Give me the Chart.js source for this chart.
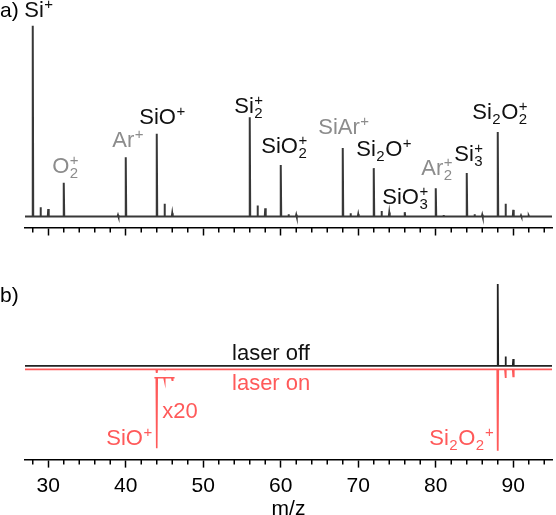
<!DOCTYPE html>
<html>
<head>
<meta charset="utf-8">
<script src="https://cdn.jsdelivr.net/npm/chart.js@4"></script>
<style>
html, body { margin: 0; padding: 0; background: #fff; overflow: hidden; width: 556px; height: 515px; }
#wrapTop { position: absolute; left: 0; top: 0; }
#wrapBot { position: absolute; left: 0; top: 260px; }
</style>
</head>
<body>
<div id="wrapTop"><canvas id="top" width="556" height="240"></canvas></div>
<div id="wrapBot"><canvas id="bottom" width="556" height="266"></canvas></div>
<script>
// a) mass spectrum, peaks at m/z with intensity (Si+ = 100)
const massA = [28, 29, 30, 32, 39, 40, 41, 44, 45, 46, 56, 57, 58, 60, 61, 62, 68, 69, 70, 72, 73, 74, 76, 80, 81, 84, 85, 86, 88, 89, 90, 91, 92];
const intA = [100, 4.9, 4.0, 17.8, 0.8, 31.1, 0.5, 43.4, 6.7, 1.8, 52.1, 5.8, 4.4, 27.1, 1.2, 1.0, 35.9, 1.8, 1.3, 25.4, 3.0, 2.1, 2.3, 14.9, 0.8, 22.8, 1.3, 1.0, 44.3, 6.7, 3.5, 0.6, 0.5];

// b) laser off / laser on (Si2O2+ laser off = 100)
const massOff = [88, 89, 90];
const intOff = [100, 11.3, 8.2];
const massOn = [44, 45, 88, 89, 90];
const intOn = [4.3, 0.3, 99.4, 10.6, 8.5];
// SiO+ part of the laser on trace, shown x20
const massZoom = [44, 45, 46];
const intZoom = [4.3, 0.2, 0.15];
const zoomFactor = 20;
const zoomFrom = 43.7, zoomTo = 46.3;
const offsetOn = -4.3;
const offsetZoom = -14.6;

const xMin = 27, xMax = 95;
const xMajor = [30, 40, 50, 60, 70, 80, 90];

// ion labels: [text parts, m/z of left edge, y of baseline, colour key]
// part = [main, sub, sup] ; sub and sup stacked
const ionsA = [
  [[['Si', '', '+']], 26.9, 104.7, 'k'],
  [[['O', '2', '+']], 30.5, 22.9, 'g'],
  [[['Ar', '', '+']], 38.26, 36.7, 'g'],
  [[['SiO', '', '+']], 41.74, 48.3, 'k'],
  [[['Si', '2', '+']], 54.0, 54.4, 'k'],
  [[['SiO', '2', '+']], 57.48, 33.4, 'k'],
  [[['SiAr', '', '+']], 64.84, 43.4, 'g'],
  [[['Si', '2', ''], ['O', '', '+']], 69.74, 31.5, 'k'],
  [[['SiO', '3', '+']], 73.1, 6.7, 'k'],
  [[['Ar', '2', '+']], 78.13, 21.9, 'g'],
  [[['Si', '3', '+']], 82.39, 29.2, 'k'],
  [[['Si', '2', ''], ['O', '2', '+']], 84.71, 51.1, 'k']
];
const ionsB = [
  [[['laser off', '', '']], 53.71, 7.3, 'k'],
  [[['laser on', '', '']], 53.71, -29.3, 'r'],
  [[['x20', '', '']], 44.71, -63.4, 'r'],
  [[['SiO', '', '+']], 37.48, -96.3, 'r'],
  [[['Si', '2', ''], ['O', '2', ''], ['', '', '+']], 79.16, -96.3, 'r']
];
const colors = { k: '#111111', g: '#8c8c8c', r: '#ff5a5a' };

const FONT = '"Liberation Sans", Arial, sans-serif';
Chart.defaults.font.family = FONT;
Chart.defaults.font.size = 20;
Chart.defaults.color = '#000';

function spectrum(masses, ints, from, to, base, sign) {
  const pts = [{ x: from, y: base }];
  masses.forEach((m, i) => {
    pts.push({ x: m - 0.06, y: base }, { x: m, y: base + sign * ints[i] }, { x: m + 0.06, y: base });
  });
  pts.push({ x: to, y: base });
  return pts;
}

function drawRich(ctx, x, y, parts, color) {
  ctx.fillStyle = color;
  ctx.textBaseline = 'alphabetic';
  ctx.textAlign = 'left';
  parts.forEach(([main, sub, sup]) => {
    ctx.font = '22px ' + FONT;
    ctx.fillText(main, x, y);
    x += ctx.measureText(main).width;
    ctx.font = '15px ' + FONT;
    let w = 0;
    if (sub) { ctx.fillText(sub, x + 0.5, y + 5); w = Math.max(w, ctx.measureText(sub).width); }
    if (sup) { ctx.fillText(sup, x + 0.5, y - 8); w = Math.max(w, ctx.measureText(sup).width); }
    x += w + (w ? 1 : 0);
  });
}

function labelPlugin(items, panelTag, tagY) {
  return {
    id: 'ionLabels',
    afterDraw(chart) {
      const { ctx, scales: { x, y } } = chart;
      ctx.save();
      items.forEach(([parts, m, v, c]) => {
        drawRich(ctx, x.getPixelForValue(m), y.getPixelForValue(v), parts, colors[c]);
      });
      ctx.font = '21px ' + FONT;
      ctx.fillStyle = '#000';
      ctx.textBaseline = 'alphabetic';
      ctx.textAlign = 'left';
      ctx.fillText(panelTag, 0, tagY);
      ctx.restore();
    }
  };
}

const minorTicks = {
  id: 'minorTicks',
  afterDraw(chart) {
    const xs = chart.scales.x, ctx = chart.ctx;
    ctx.save();
    ctx.strokeStyle = '#000';
    ctx.lineWidth = 1.5;
    for (let v = 28; v <= 94; v += 2) {
      if (v % 10 === 0) continue;
      const px = xs.getPixelForValue(v);
      ctx.beginPath();
      ctx.moveTo(px, xs.top);
      ctx.lineTo(px, xs.top + 5);
      ctx.stroke();
    }
    ctx.restore();
  }
};

function xAxis(showLabels) {
  return {
    type: 'linear',
    min: xMin,
    max: xMax,
    afterBuildTicks: s => { s.ticks = xMajor.map(v => ({ value: v })); },
    ticks: { display: showLabels, padding: 6, maxRotation: 0, autoSkip: false, color: '#000', font: { size: 21 } },
    grid: { drawOnChartArea: false, drawTicks: true, tickLength: 8, tickWidth: 1.5, tickColor: '#000' },
    border: { display: true, color: '#000', width: 1.5 },
    title: { display: showLabels, text: 'm/z', color: '#000', font: { size: 21 }, padding: { top: -8, bottom: 4 } }
  };
}

new Chart(document.getElementById('top'), {
  type: 'line',
  data: {
    datasets: [{
      data: spectrum(massA, intA, xMin, xMax, 0, 1),
      borderColor: '#383838',
      borderWidth: 2,
      pointRadius: 0,
      tension: 0
    }]
  },
  options: {
    responsive: false,
    animation: false,
    layout: { padding: { left: 25, right: 4, top: 20, bottom: 4.5 } },
    plugins: { legend: { display: false }, tooltip: { enabled: false } },
    scales: {
      x: xAxis(false),
      y: { display: false, min: -5.7, max: 103 }
    }
  },
  plugins: [minorTicks, labelPlugin(ionsA, 'a)', 17)]
});

new Chart(document.getElementById('bottom'), {
  type: 'line',
  data: {
    datasets: [{
      data: spectrum(massOff, intOff, xMin, xMax, 0, 1),
      borderColor: '#222222',
      borderWidth: 1.8,
      pointRadius: 0,
      tension: 0
    }, {
      data: spectrum(massOn, intOn, xMin, xMax, offsetOn, -1),
      borderColor: '#ff5a5a',
      borderWidth: 1.8,
      pointRadius: 0,
      tension: 0
    }, {
      data: spectrum(massZoom, intZoom.map(v => v * zoomFactor), zoomFrom, zoomTo, offsetZoom, -1),
      borderColor: '#ff5a5a',
      borderWidth: 1.6,
      pointRadius: 0,
      tension: 0
    }]
  },
  options: {
    responsive: false,
    animation: false,
    layout: { padding: { left: 25, right: 4, top: 20, bottom: 0 } },
    plugins: { legend: { display: false }, tooltip: { enabled: false } },
    scales: {
      x: xAxis(true),
      y: { display: false, min: -114.6, max: 104.9 }
    }
  },
  plugins: [minorTicks, labelPlugin(ionsB, 'b)', 42)]
});
</script>
</body>
</html>
